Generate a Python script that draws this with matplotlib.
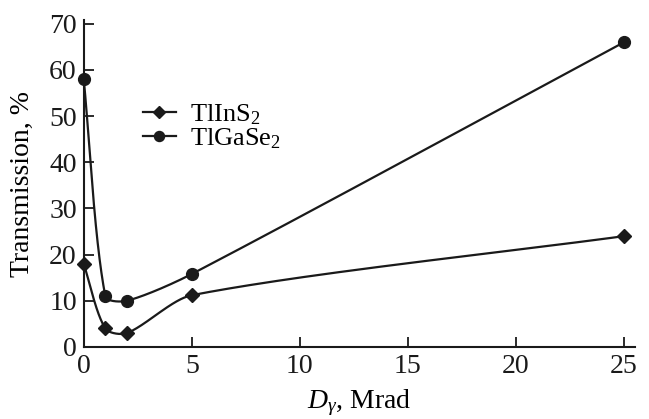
import numpy as np
import matplotlib
matplotlib.use("Agg")
import matplotlib.pyplot as plt

plt.rcParams['font.family'] = 'serif'
plt.rcParams['font.serif'] = ['Liberation Serif', 'Times New Roman', 'DejaVu Serif']
plt.rcParams['mathtext.fontset'] = 'custom'
plt.rcParams['mathtext.rm'] = 'Liberation Serif'
plt.rcParams['mathtext.it'] = 'Liberation Serif:italic'

dose = [0, 1, 2, 5, 25]
tlins2 = [18, 4, 3, 11.2, 24]
tlgase2 = [58, 11, 10, 15.8, 66]
xticks = [0, 5, 10, 15, 20, 25]
yticks = [0, 10, 20, 30, 40, 50, 60, 70]

YSCALE = 4.61 / 21.6  # screen aspect of data units


def smooth(x, y, n=80, k=0.8):
    P = np.column_stack([np.asarray(x, float), np.asarray(y, float) * YSCALE])
    d = np.diff(P, axis=0)
    L = np.linalg.norm(d, axis=1)
    tang = np.empty_like(P)
    tang[0] = d[0]
    tang[-1] = d[-1]
    tang[1:-1] = P[2:] - P[:-2]
    tang /= np.linalg.norm(tang, axis=1)[:, None]
    out = []
    t = np.linspace(0, 1, n)[:, None]
    h00 = 2 * t**3 - 3 * t**2 + 1
    h10 = t**3 - 2 * t**2 + t
    h01 = -2 * t**3 + 3 * t**2
    h11 = t**3 - t**2
    for i in range(len(P) - 1):
        m0 = tang[i] * L[i] * k
        m1 = tang[i + 1] * L[i] * k
        out.append(h00 * P[i] + h10 * m0 + h01 * P[i + 1] + h11 * m1)
    C = np.vstack(out)
    return C[:, 0], C[:, 1] / YSCALE


fig = plt.figure(figsize=(6.49, 4.19), dpi=100)
ax = fig.add_axes([0.129, 0.172, 0.849, 0.78])

for data, mk, ms, lab in [(tlins2, 'D', 7, 'TlInS$_2$'), (tlgase2, 'o', 8.5, 'TlGaSe$_2$')]:
    sx, sy = smooth(dose, data)
    ax.plot(sx, sy, color='#1a1a1a', lw=1.6, clip_on=False)
    ax.plot(dose, data, linestyle='none', marker=mk, ms=ms, color='#1a1a1a', clip_on=False, zorder=5)
    ax.plot([], [], color='#1a1a1a', lw=1.6, marker=mk, ms=ms * 0.85, label=lab)

ax.set_xlim(0, 25.5)
ax.set_ylim(0, 70.8)
ax.set_xticks(xticks)
ax.set_yticks(yticks)
for s in ['top', 'right']:
    ax.spines[s].set_visible(False)
for s in ['left', 'bottom']:
    ax.spines[s].set_linewidth(1.5)
    ax.spines[s].set_color('#1a1a1a')
ax.tick_params(direction='in', length=7, width=1.3, labelsize=20, colors='#1a1a1a', pad=5)
ax.set_ylabel('Transmission, %', fontsize=20, labelpad=10)
ax.set_xlabel(r'$D_\gamma$, Mrad', fontsize=20, labelpad=6)

leg = ax.legend(loc='upper left', bbox_to_anchor=(0.064, 0.82), frameon=False, fontsize=19,
                handlelength=1.25, handletextpad=0.55, labelspacing=-0.05)

fig.savefig('out.png', dpi=100)
